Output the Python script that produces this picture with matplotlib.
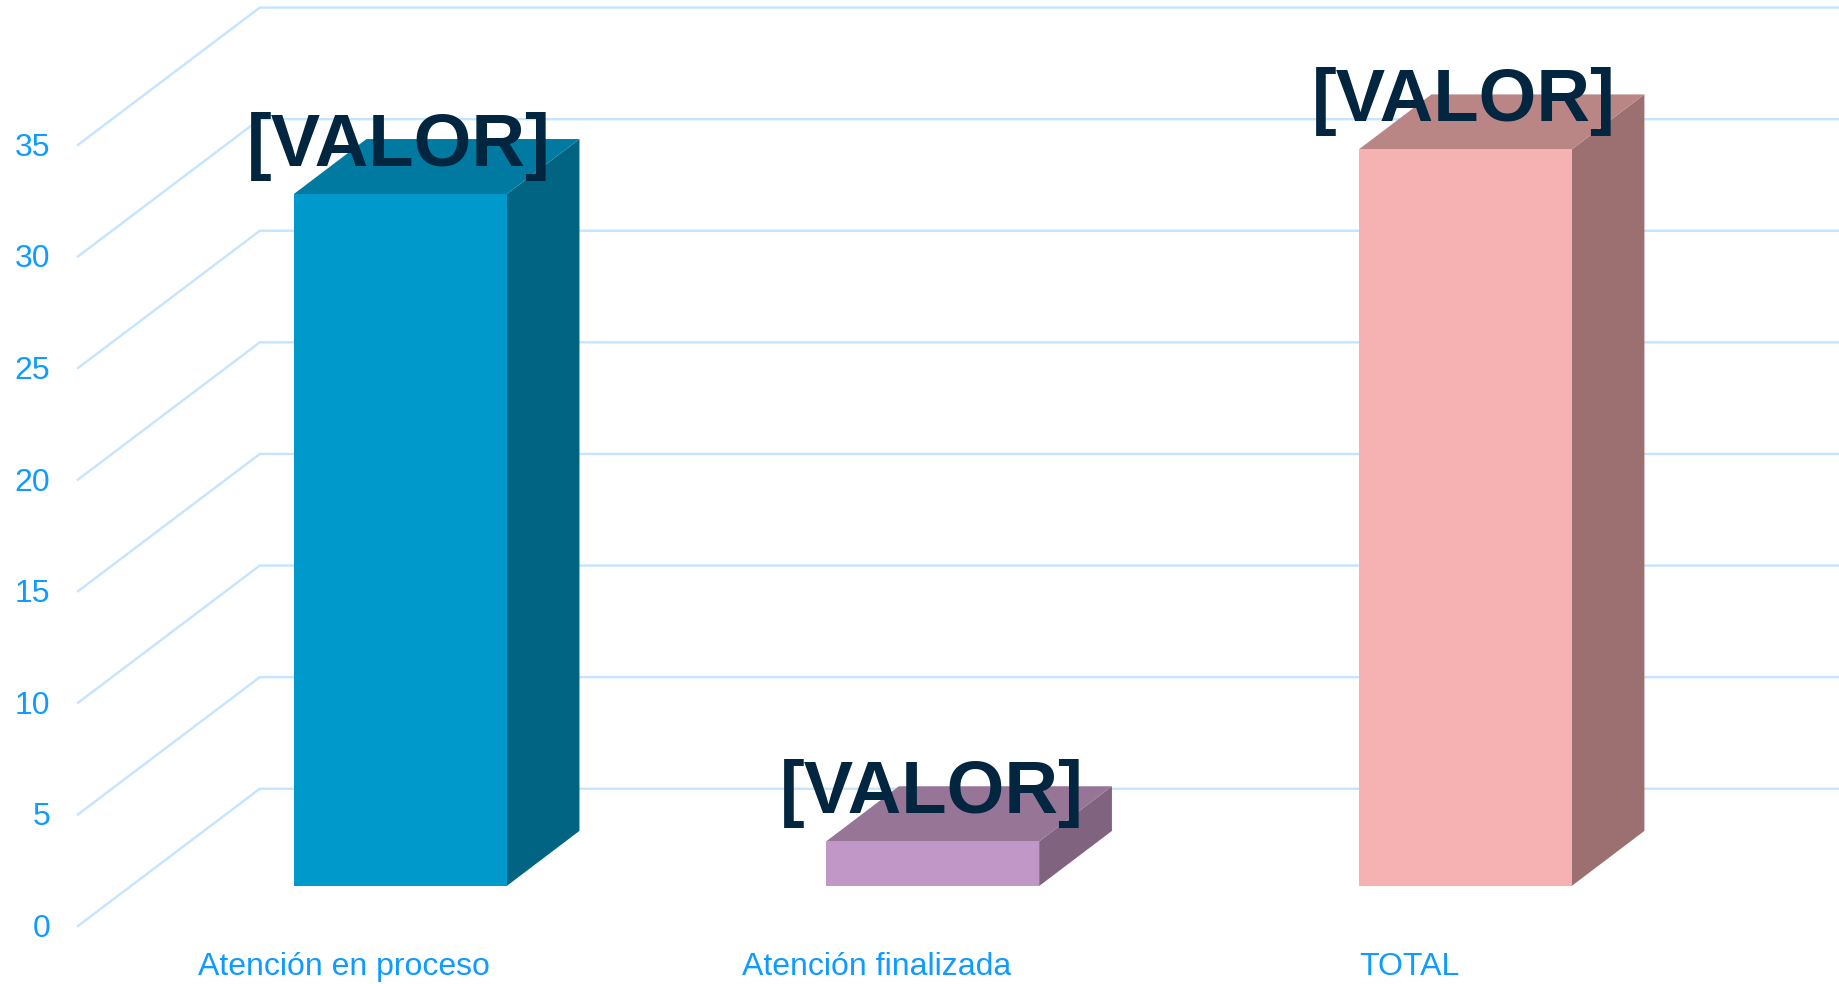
import matplotlib
matplotlib.use('Agg')
import matplotlib.pyplot as plt

# datos
categories = ['Atención en proceso', 'Atención finalizada', 'TOTAL']
values = [31, 2, 33]
y_ticks = [0, 5, 10, 15, 20, 25, 30, 35]
bar_label = '[VALOR]'

front_colors = ['#0099CC', '#C197C7', '#F6B1B2']
side_colors = ['#006482', '#7F637F', '#9C7071']
top_colors = ['#007AA0', '#967596', '#B98685']
grid_color = '#C4E4FF'
tick_color = '#0F9BFF'
label_color = '#02263F'

plt.rcParams['font.family'] = ['Liberation Sans', 'DejaVu Sans']

# perspectiva del grafico 3D, en unidades de los ejes
bar_w = 0.4
depth_x = 0.1367
depth_y = 2.47
wall_x0 = -0.605
wall_x1 = -0.2636
wall_dy0 = -1.79
wall_dy1 = 4.36

fig = plt.figure(figsize=(18.4, 9.84), dpi=100)
ax = fig.add_axes([0, 0, 1, 1])
ax.set_xlim(-0.7515, 2.704)
ax.set_ylim(-4.39, 39.7)
ax.axis('off')

# lineas de la pared y del suelo
for v in y_ticks:
    ax.plot([wall_x0, wall_x1, 2.704], [v + wall_dy0, v + wall_dy1, v + wall_dy1],
            color=grid_color, lw=1.7, zorder=1, solid_joinstyle='miter', clip_on=False)
    ax.text(-0.6567, v + wall_dy0 - 0.13, str(v), color=tick_color, fontsize=23,
            ha='right', va='center')

# barras
for i, v in enumerate(values):
    x0 = i - bar_w / 2
    x1 = i + bar_w / 2
    ax.fill([x0, x1, x1, x0], [0, 0, v, v], color=front_colors[i], lw=0, zorder=3)
    ax.fill([x1, x1 + depth_x, x1 + depth_x, x1], [0, depth_y, v + depth_y, v],
            color=side_colors[i], lw=0, zorder=2)
    ax.fill([x0, x1, x1 + depth_x, x0 + depth_x], [v, v, v + depth_y, v + depth_y],
            color=top_colors[i], lw=0, zorder=2)
    ax.text(i - 0.002, v + 2.15, bar_label, color=label_color, fontsize=53.5,
            fontweight='bold', ha='center', va='center', zorder=5)
    ax.text(i - 0.1047, -3.62, categories[i], color=tick_color, fontsize=23,
            ha='center', va='center')

fig.savefig('out.png', dpi=100)
